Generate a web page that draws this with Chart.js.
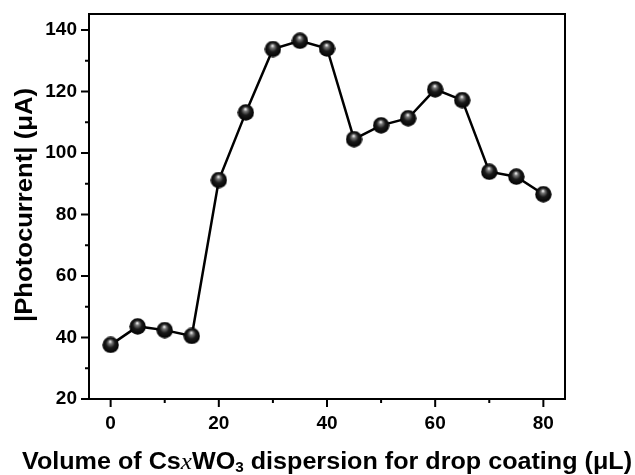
<!DOCTYPE html>
<html>
<head>
<meta charset="utf-8">
<script src="https://cdn.jsdelivr.net/npm/chart.js@4/dist/chart.umd.min.js"></script>
<style>
  html, body { margin: 0; padding: 0; background: #fff; }
  #wrap { width: 635px; height: 475px; }
</style>
</head>
<body>
<div id="wrap"><canvas id="chart" width="635" height="475"></canvas></div>
<script>
// data
const volumes = [0, 5, 10, 15, 20, 25, 30, 35, 40, 45, 50, 55, 60, 65, 70, 75, 80];
const photocurrent = [37.6, 43.6, 42.4, 40.5, 91.2, 113.2, 133.8, 136.5, 134.0, 104.5, 109.0, 111.3, 120.7, 117.2, 93.9, 92.3, 86.6];
const xMajorTicks = [0, 20, 40, 60, 80];
const xMinorTicks = [10, 30, 50, 70];
const yMajorTicks = [20, 40, 60, 80, 100, 120, 140];
const yMinorTicks = [30, 50, 70, 90, 110, 130];

const SANS = '"Liberation Sans", Arial, sans-serif';

// shiny black ball used as marker
function makeBall(size) {
  const c = document.createElement('canvas');
  c.width = size; c.height = size;
  const g = c.getContext('2d');
  const r = size / 2;
  const grad = g.createRadialGradient(r * 0.95, r * 0.6, 0.5, r, r, r);
  grad.addColorStop(0, '#e8e8e8');
  grad.addColorStop(0.18, '#777');
  grad.addColorStop(0.5, '#1a1a1a');
  grad.addColorStop(1, '#000');
  g.fillStyle = grad;
  g.beginPath();
  g.arc(r, r, r - 0.3, 0, Math.PI * 2);
  g.fill();
  return c;
}
const ball = makeBall(17);

const decor = {
  id: 'decor',
  afterDraw(chart) {
    const ctx = chart.ctx;
    const a = chart.chartArea;
    const xs = chart.scales.x, ys = chart.scales.y;
    ctx.save();
    ctx.strokeStyle = '#000';
    ctx.lineWidth = 2;
    ctx.strokeRect(a.left, a.top, a.right - a.left, a.bottom - a.top);

    ctx.beginPath();
    xMajorTicks.forEach(v => { const p = xs.getPixelForValue(v); ctx.moveTo(p, a.bottom); ctx.lineTo(p, a.bottom + 8); });
    xMinorTicks.forEach(v => { const p = xs.getPixelForValue(v); ctx.moveTo(p, a.bottom); ctx.lineTo(p, a.bottom + 4); });
    yMajorTicks.forEach(v => { const p = ys.getPixelForValue(v); ctx.moveTo(a.left, p); ctx.lineTo(a.left - 8, p); });
    yMinorTicks.forEach(v => { const p = ys.getPixelForValue(v); ctx.moveTo(a.left, p); ctx.lineTo(a.left - 4, p); });
    ctx.stroke();

    // x title with italic x and subscript 3
    const parts = [
      { t: 'Volume of Cs', f: 'bold 23px ' + SANS, dy: 0 },
      { t: 'x', f: 'italic 23px "Liberation Serif", "Times New Roman", serif', dy: 0 },
      { t: 'WO', f: 'bold 23px ' + SANS, dy: 0 },
      { t: '3', f: 'bold 14px ' + SANS, dy: 3 },
      { t: ' dispersion for drop coating (μL)', f: 'bold 23px ' + SANS, dy: 0 }
    ];
    let total = 0;
    parts.forEach(p => { ctx.font = p.f; p.w = ctx.measureText(p.t).width; total += p.w; });
    const sx = 610 / total;
    ctx.fillStyle = '#000';
    ctx.textBaseline = 'alphabetic';
    ctx.textAlign = 'left';
    ctx.save();
    ctx.translate(327 - 305, 469);
    ctx.scale(sx, 1);
    let x = 0;
    parts.forEach(p => { ctx.font = p.f; ctx.fillText(p.t, x, p.dy); x += p.w; });
    ctx.restore();

    // y title
    ctx.translate(26, 205);
    ctx.rotate(-Math.PI / 2);
    ctx.textAlign = 'center';
    ctx.textBaseline = 'middle';
    ctx.font = 'bold 23px ' + SANS;
    const yt = '|Photocurrent| (μA)';
    ctx.scale(234 / ctx.measureText(yt).width, 1);
    ctx.fillText(yt, 0, 0);
    ctx.restore();
  }
};

new Chart(document.getElementById('chart'), {
  type: 'line',
  data: {
    labels: volumes,
    datasets: [{
      data: volumes.map((v, i) => ({ x: v, y: photocurrent[i] })),
      borderColor: '#000',
      borderWidth: 2.5,
      pointStyle: ball,
      pointRadius: 8,
      pointHoverRadius: 8,
      tension: 0,
      clip: false
    }]
  },
  options: {
    responsive: false,
    devicePixelRatio: 1,
    animation: false,
    layout: { padding: { left: 0, top: 14, right: 70, bottom: 0 } },
    plugins: { legend: { display: false }, tooltip: { enabled: false } },
    scales: {
      x: {
        type: 'linear',
        min: -4,
        max: 84,
        grid: { display: false, drawTicks: false },
        border: { display: false },
        afterFit(s) { s.height = 76; s.paddingLeft = 0; s.paddingRight = 0; },
        afterBuildTicks(s) { s.ticks = xMajorTicks.map(v => ({ value: v })); },
        ticks: {
          padding: 13,
          color: '#000',
          font: { family: SANS, size: 19, weight: 'bold' }
        }
      },
      y: {
        min: 20,
        max: 145.2,
        grid: { display: false, drawTicks: false },
        border: { display: false },
        afterFit(s) { s.width = 89; s.paddingTop = 0; s.paddingBottom = 0; },
        afterBuildTicks(s) { s.ticks = yMajorTicks.map(v => ({ value: v })); },
        ticks: {
          padding: 12,
          color: '#000',
          font: { family: SANS, size: 19, weight: 'bold' }
        }
      }
    }
  },
  plugins: [decor]
});
</script>
</body>
</html>
